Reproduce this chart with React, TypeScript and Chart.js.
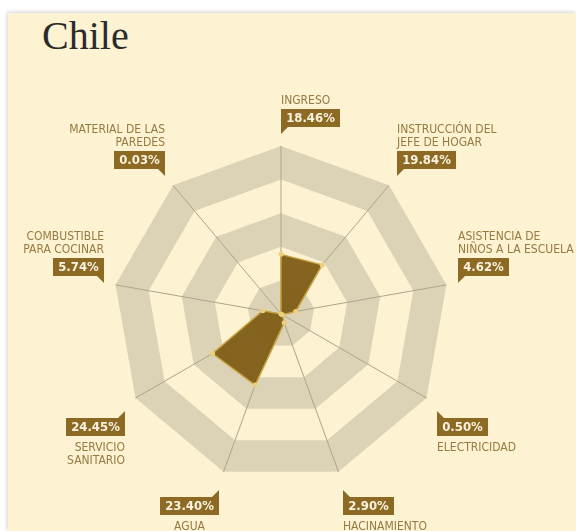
import React, { useEffect, useRef } from "react";
import { Chart, registerables } from "chart.js";

Chart.register(...registerables);

// ---- data ----
const CATEGORIES = [
  "INGRESO",
  "INSTRUCCIÓN DEL JEFE DE HOGAR",
  "ASISTENCIA DE NIÑOS A LA ESCUELA",
  "ELECTRICIDAD",
  "HACINAMIENTO",
  "AGUA",
  "SERVICIO SANITARIO",
  "COMBUSTIBLE PARA COCINAR",
  "MATERIAL DE LAS PAREDES",
];
const LABEL_LINES = [
  ["INGRESO"],
  ["INSTRUCCIÓN DEL", "JEFE DE HOGAR"],
  ["ASISTENCIA DE", "NIÑOS A LA ESCUELA"],
  ["ELECTRICIDAD"],
  ["HACINAMIENTO"],
  ["AGUA"],
  ["SERVICIO", "SANITARIO"],
  ["COMBUSTIBLE", "PARA COCINAR"],
  ["MATERIAL DE LAS", "PAREDES"],
];
const VALUES = [18.46, 19.84, 4.62, 0.5, 2.9, 23.4, 24.45, 5.74, 0.03];
const TITLE = "Chile";
const SCALE_MIN = 0;
const SCALE_MAX = 52;
const RING_TICKS = 6;

// ---- style ----
const CREAM = "#fdf2d2";
const BAND = "#dcd3b6";
const AXIS = "#ada48b";
const FILL = "rgba(128,95,24,0.97)";
const EDGE = "#c9a242";
const POINT = "#ead07a";
const BADGE_BG = "#8c6a24";
const BADGE_TEXT = "#fbf3df";
const LABEL_COLOR = "#967a40";
const NARROW = '"Liberation Sans Narrow", "DejaVu Sans Condensed", "Roboto", sans-serif';
const LABEL_FONT = `12px ${NARROW}`;
const BADGE_FONT = `bold 13px ${NARROW}`;
// tail position of each callout: b/t = tail below/above badge, l/r = tail on left/right
const TAIL_SIDE = ["bl", "bl", "bl", "tl", "tl", "tr", "tr", "br", "br"];
const TEXT_ALIGN: CanvasTextAlign[] = ["left", "left", "left", "left", "left", "center", "right", "right", "right"];

function polygon(ctx: CanvasRenderingContext2D, scale: any, n: number, r: number) {
  for (let i = 0; i < n; i++) {
    const p = scale.getPointPosition(i, r);
    if (i === 0) ctx.moveTo(p.x, p.y);
    else ctx.lineTo(p.x, p.y);
  }
  ctx.closePath();
}

const bandsPlugin = {
  id: "bands",
  beforeDraw(chart: any) {
    const scale = chart.scales.r;
    const ctx: CanvasRenderingContext2D = chart.ctx;
    const n = chart.data.labels.length;
    const ticks = scale.ticks.map((t: any) => t.value);
    ctx.save();
    ctx.fillStyle = BAND;
    for (let k = 0; k + 1 < ticks.length; k += 2) {
      const r0 = scale.getDistanceFromCenterForValue(ticks[k]);
      const r1 = scale.getDistanceFromCenterForValue(ticks[k + 1]);
      ctx.beginPath();
      polygon(ctx, scale, n, r1);
      if (r0 > 0.5) polygon(ctx, scale, n, r0);
      ctx.fill("evenodd");
    }
    ctx.restore();
  },
};

const calloutPlugin = {
  id: "callouts",
  afterDraw(chart: any) {
    const scale = chart.scales.r;
    const ctx: CanvasRenderingContext2D = chart.ctx;
    ctx.save();
    for (let i = 0; i < VALUES.length; i++) {
      const side = TAIL_SIDE[i];
      const below = side[0] === "t";
      const p = scale.getPointPosition(i, scale.drawingArea + 12);
      const tip = { x: p.x, y: p.y + (below ? 7 : 0) };
      const text = VALUES[i].toFixed(2) + "%";
      ctx.font = BADGE_FONT;
      const w = Math.round(ctx.measureText(text).width + 10);
      const h = 18;
      const tail = 7;
      const left = side[1] === "l";
      const bx = Math.round(left ? tip.x : tip.x - w);
      const by = Math.round(below ? tip.y + tail : tip.y - tail - h);
      ctx.fillStyle = BADGE_BG;
      ctx.fillRect(bx, by, w, h);
      ctx.beginPath();
      const tx0 = left ? bx : bx + w;
      const edgeY = below ? by : by + h;
      ctx.moveTo(tx0, edgeY);
      ctx.lineTo(tx0, Math.round(tip.y));
      ctx.lineTo(tx0 + (left ? 7 : -7), edgeY);
      ctx.closePath();
      ctx.fill();
      ctx.fillStyle = BADGE_TEXT;
      ctx.textAlign = "center";
      ctx.textBaseline = "middle";
      ctx.fillText(text, bx + w / 2, by + h / 2 + 1);

      ctx.font = LABEL_FONT;
      ctx.fillStyle = LABEL_COLOR;
      ctx.textBaseline = "alphabetic";
      const align = TEXT_ALIGN[i];
      ctx.textAlign = align;
      const tx = align === "left" ? bx : align === "right" ? bx + w : bx + w / 2;
      const lines = LABEL_LINES[i];
      if (!below) {
        let y = by - 5;
        for (let j = lines.length - 1; j >= 0; j--) {
          ctx.fillText(lines[j], tx, y);
          y -= 13;
        }
      } else {
        let y = by + h + 15;
        for (let j = 0; j < lines.length; j++) {
          ctx.fillText(lines[j], tx, y);
          y += 13;
        }
      }
    }
    ctx.restore();
  },
};

function RadarChart() {
  const ref = useRef<HTMLCanvasElement | null>(null);
  useEffect(() => {
    if (!ref.current) return;
    const chart = new Chart(ref.current, {
      type: "radar",
      data: {
        labels: CATEGORIES,
        datasets: [
          {
            data: VALUES,
            backgroundColor: FILL,
            borderColor: EDGE,
            borderWidth: 1.5,
            pointRadius: 2.5,
            pointBackgroundColor: POINT,
            pointBorderWidth: 0,
            fill: true,
          },
        ],
      },
      options: {
        responsive: false,
        animation: false,
        layout: { padding: { left: 113, right: 127, top: 146, bottom: 49 } },
        plugins: { legend: { display: false }, tooltip: { enabled: false }, title: { display: false } },
        scales: {
          r: {
            min: SCALE_MIN,
            max: SCALE_MAX,
            ticks: { display: false, count: RING_TICKS },
            grid: { display: false },
            angleLines: { display: true, color: AXIS, lineWidth: 1 },
            pointLabels: { display: false },
          },
        },
      },
      plugins: [bandsPlugin, calloutPlugin],
    });
    return () => chart.destroy();
  }, []);
  return (
    <canvas
      ref={ref}
      width={576}
      height={531}
      style={{ position: "absolute", left: 0, top: 0, width: 576, height: 531 }}
    />
  );
}

export default function App() {
  return (
    <div style={{ position: "absolute", left: 0, top: 0, width: 576, height: 531, background: "#ffffff", overflow: "hidden" }}>
      <div
        style={{
          position: "absolute",
          left: 8,
          top: 13,
          width: 568,
          height: 518,
          background: CREAM,
          boxShadow: "-1px -1px 4px rgba(0,0,0,0.18)",
        }}
      />
      <div
        style={{
          position: "absolute",
          left: 42,
          top: 16,
          font: '40px "Liberation Serif", "DejaVu Serif", serif',
          lineHeight: "40px",
          color: "#2b2b2b",
        }}
      >
        {TITLE}
      </div>
      <RadarChart />
    </div>
  );
}
